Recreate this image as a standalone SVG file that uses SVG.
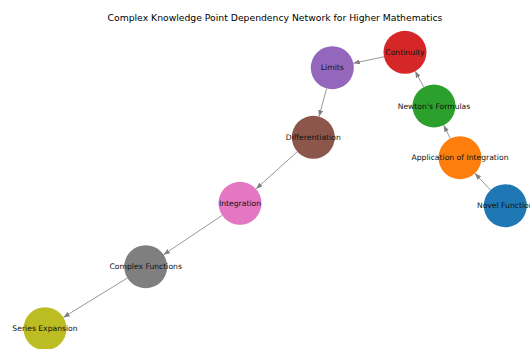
<svg xmlns="http://www.w3.org/2000/svg" width="530" height="349" viewBox="0 0 530 349">
  <defs>
    <marker id="arrow" markerUnits="userSpaceOnUse" markerWidth="7" markerHeight="5" refX="6.5" refY="2.5" orient="auto">
      <path d="M0,0 L6.5,2.5 L0,5 z" fill="#808080"/>
    </marker>
  </defs>
  <style>
    .edge { stroke: #8c8c8c; stroke-width: 0.9; fill: none; marker-end: url(#arrow); }
    .node circle { stroke: none; }
    .label { font-family: "DejaVu Sans", sans-serif; font-size: 7.65px; fill: #111; text-anchor: middle; dominant-baseline: central; }
    .title { font-family: "DejaVu Sans", sans-serif; font-size: 9.25px; fill: #000; text-anchor: middle; }
  </style>
  <rect width="530" height="349" fill="#ffffff"/>
  <text class="title" x="275" y="21">Complex Knowledge Point Dependency Network for Higher Mathematics</text>

  <!-- directed dependency edges, trimmed to the circle borders -->
  <g id="connectors">
    <line class="edge" x1="384.0" y1="56.8" x2="353.3" y2="63.2"/>
    <line class="edge" x1="423.8" y1="87.1" x2="415.2" y2="71.2"/>
    <line class="edge" x1="450.3" y1="138.5" x2="443.7" y2="125.2"/>
    <line class="edge" x1="490.5" y1="190.1" x2="474.8" y2="173.3"/>
    <line class="edge" x1="326.6" y1="88.5" x2="319.0" y2="116.6"/>
    <line class="edge" x1="297.3" y1="151.7" x2="256.0" y2="188.9"/>
    <line class="edge" x1="222.2" y1="215.3" x2="163.5" y2="254.7"/>
    <line class="edge" x1="127.4" y1="278.0" x2="63.3" y2="317.4"/>
  </g>

  <g id="node-continuity" class="node">
    <circle cx="405" cy="52.3" r="21.5" fill="#d62728"/>
    <text class="label" x="405" y="52.3">Continuity</text>
  </g>
  <g id="node-limits" class="node">
    <circle cx="332.3" cy="67.7" r="21.5" fill="#9467bd"/>
    <text class="label" x="332.3" y="67.7">Limits</text>
  </g>
  <g id="node-newton" class="node">
    <circle cx="434" cy="106" r="21.5" fill="#2ca02c"/>
    <text class="label" x="434" y="106">Newton's Formulas</text>
  </g>
  <g id="node-differentiation" class="node">
    <circle cx="313.3" cy="137.3" r="21.5" fill="#8c564b"/>
    <text class="label" x="313.3" y="137.3">Differentiation</text>
  </g>
  <g id="node-application" class="node">
    <circle cx="460" cy="157.7" r="21.5" fill="#ff7f0e"/>
    <text class="label" x="460" y="157.7">Application of Integration</text>
  </g>
  <g id="node-novel" class="node">
    <circle cx="505.3" cy="205.7" r="21.5" fill="#1f77b4"/>
    <text class="label" x="505.3" y="205.7">Novel Function</text>
  </g>
  <g id="node-integration" class="node">
    <circle cx="240" cy="203.3" r="21.5" fill="#e377c2"/>
    <text class="label" x="240" y="203.3">Integration</text>
  </g>
  <g id="node-complex" class="node">
    <circle cx="145.7" cy="266.7" r="21.5" fill="#7f7f7f"/>
    <text class="label" x="145.7" y="266.7">Complex Functions</text>
  </g>
  <g id="node-series" class="node">
    <circle cx="45" cy="328.7" r="21.5" fill="#bcbd22"/>
    <text class="label" x="45" y="328.7">Series Expansion</text>
  </g>
</svg>
